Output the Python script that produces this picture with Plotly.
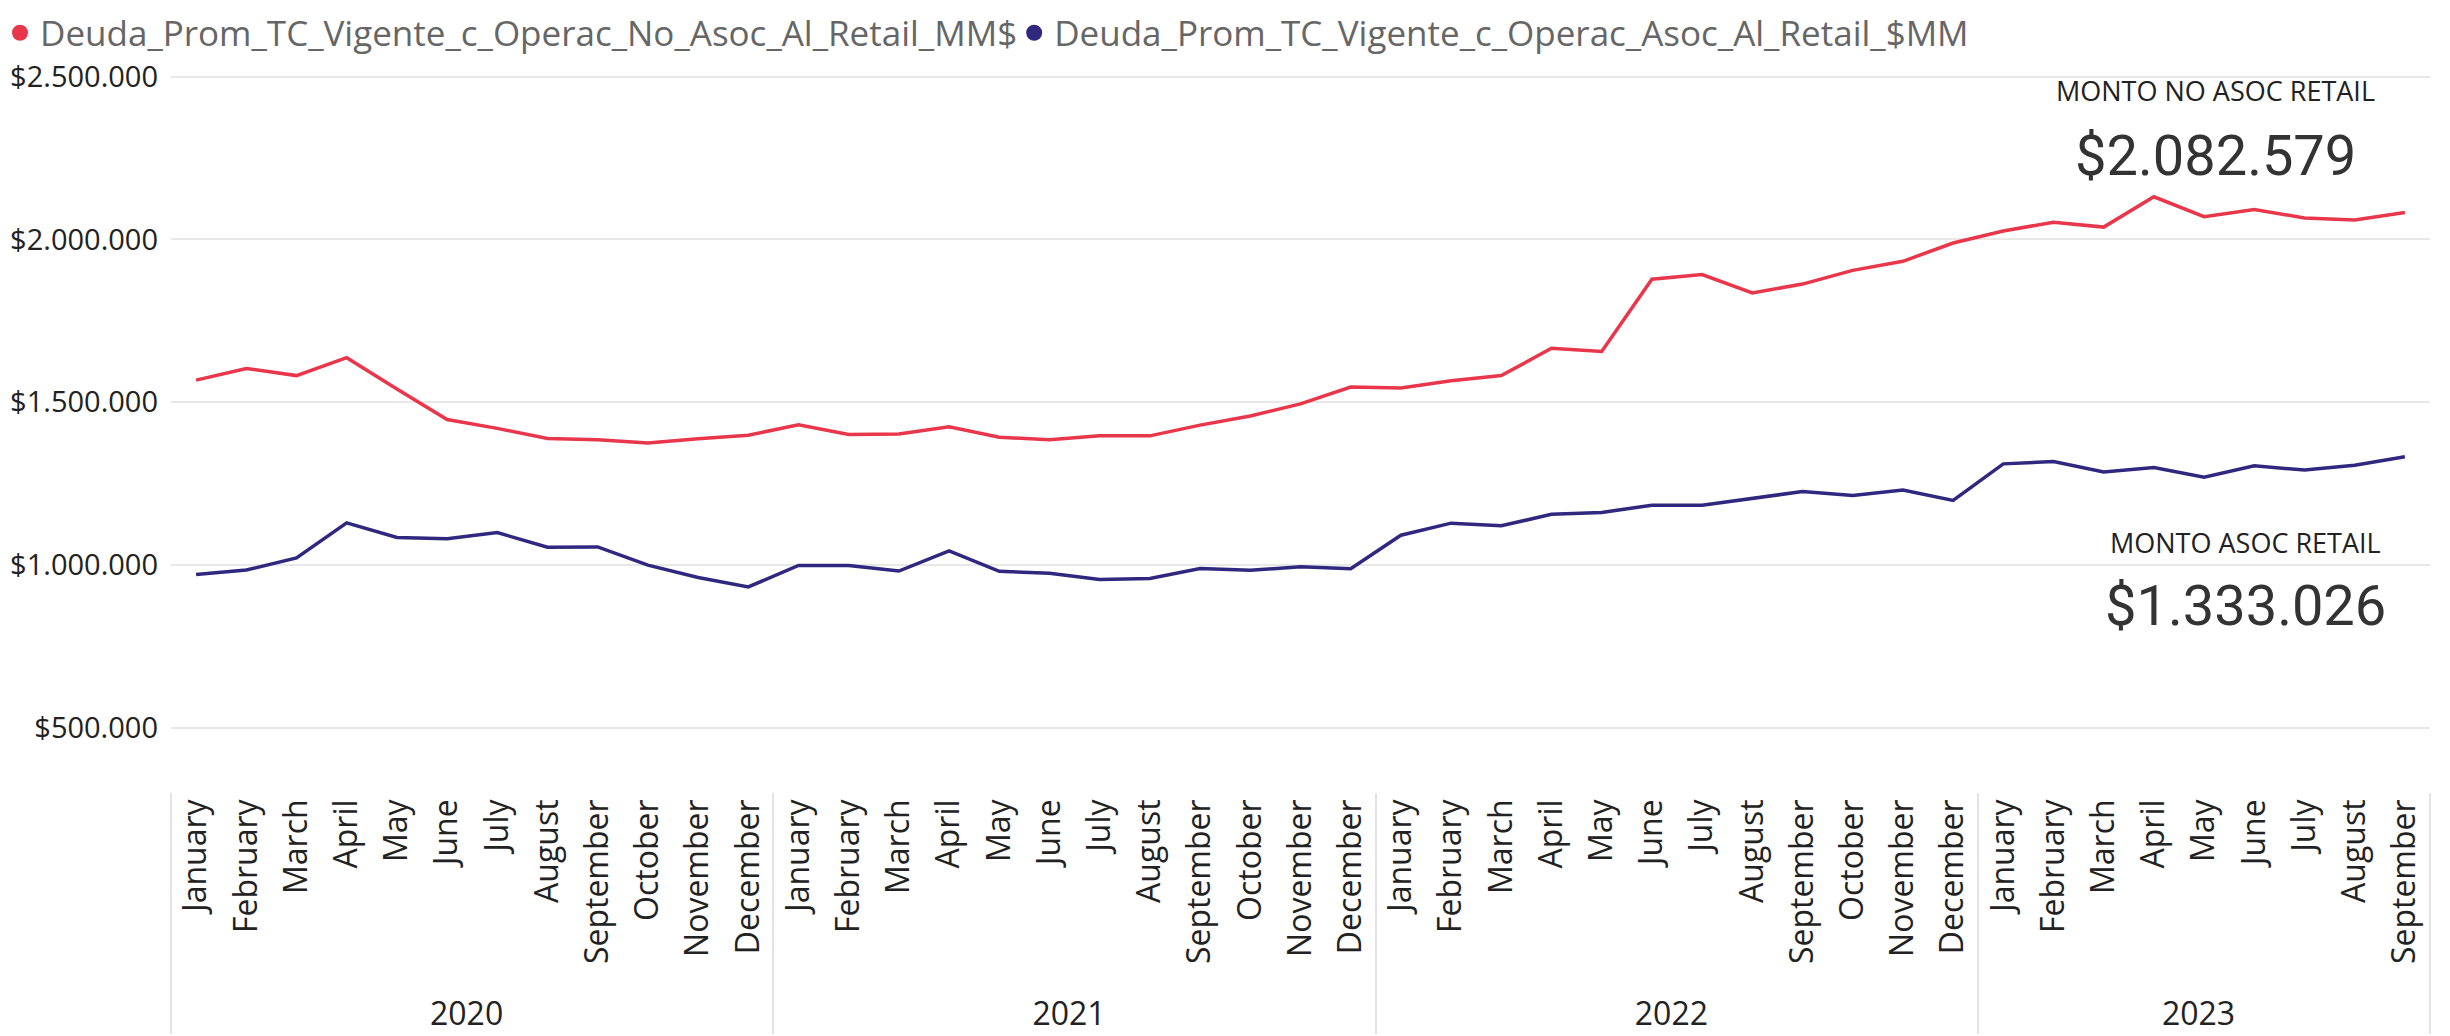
import plotly.graph_objects as go

years = ["2020"] * 12 + ["2021"] * 12 + ["2022"] * 12 + ["2023"] * 9
month_names = ["January", "February", "March", "April", "May", "June", "July",
               "August", "September", "October", "November", "December"]
months = month_names * 3 + month_names[:9]

no_asoc = [1568000, 1604000, 1582000, 1637000, 1541000, 1447000, 1420000, 1389000, 1385000, 1375000, 1388000, 1399000,
           1431000, 1401000, 1403000, 1425000, 1393000, 1385000, 1397000, 1397000, 1430000, 1458000, 1495000, 1547000,
           1544000, 1566000, 1582000, 1666000, 1656000, 1878000, 1892000, 1836000, 1863000, 1905000, 1933000, 1989000,
           2026000, 2053000, 2038000, 2131000, 2070000, 2092000, 2066000, 2060000, 2082579]
asoc = [971000, 985000, 1022000, 1130000, 1085000, 1081000, 1100000, 1055000, 1056000, 1000000, 962000, 933000,
        999000, 999000, 982000, 1044000, 981000, 975000, 956000, 959000, 990000, 984000, 995000, 989000,
        1092000, 1129000, 1121000, 1156000, 1162000, 1184000, 1184000, 1205000, 1226000, 1214000, 1231000, 1199000,
        1311000, 1318000, 1286000, 1300000, 1270000, 1305000, 1292000, 1307000, 1333026]

name_no_asoc = "Deuda_Prom_TC_Vigente_c_Operac_No_Asoc_Al_Retail_MM$"
name_asoc = "Deuda_Prom_TC_Vigente_c_Operac_Asoc_Al_Retail_$MM"
card_labels = ["MONTO NO ASOC RETAIL", "MONTO ASOC RETAIL"]

RED = "#E8374A"
BLUE = "#30287F"


def fmt(v):
    return "$" + f"{int(round(v)):,}".replace(",", ".")


W, H = 2450, 1036
ML, MR, MT, MB = 163, 28, 52, 252
PW, PH = W - ML - MR, H - MT - MB


def px(xp):
    return (xp - ML) / PW


def py(yp):
    return (H - MB - yp) / PH


fig = go.Figure()
fig.add_trace(go.Scatter(x=[years, months], y=no_asoc, mode="lines", line=dict(color=RED, width=3.5),
                         showlegend=False, name=name_no_asoc))
fig.add_trace(go.Scatter(x=[years, months], y=asoc, mode="lines", line=dict(color=BLUE, width=3.5),
                         showlegend=False, name=name_asoc))
# legend entries with circle symbols
fig.add_trace(go.Scatter(x=[[years[0]], [months[0]]], y=[None], mode="markers",
                         marker=dict(color=RED, size=16, symbol="circle"), name=name_no_asoc))
fig.add_trace(go.Scatter(x=[[years[0]], [months[0]]], y=[None], mode="markers",
                         marker=dict(color=BLUE, size=16, symbol="circle"), name=name_asoc))

annotations = [
    dict(text=card_labels[0], x=px(2207), y=py(82), font=dict(family="Open Sans", size=27, color="#222222")),
    dict(text=fmt(no_asoc[-1]), x=px(2207), y=py(148), font=dict(family="Roboto", size=56, color="#333333")),
    dict(text=card_labels[1], x=px(2237), y=py(534), font=dict(family="Open Sans", size=27, color="#222222")),
    dict(text=fmt(asoc[-1]), x=px(2237), y=py(598), font=dict(family="Roboto", size=56, color="#333333")),
]
for a in annotations:
    a.update(xref="paper", yref="paper", xanchor="center", yanchor="middle", showarrow=False)

fig.update_layout(
    width=W, height=H,
    margin=dict(l=ML, r=MR, t=MT, b=MB, pad=0, autoexpand=False),
    paper_bgcolor="white", plot_bgcolor="white",
    separators=",.",
    font=dict(family="Open Sans", color="#222222"),
    showlegend=True,
    legend=dict(orientation="h", xref="container", yref="container", x=0, y=1 - 25 / H,
                xanchor="left", yanchor="middle", font=dict(size=35, color="#666666"),
                itemwidth=30, indentation=-8, traceorder="normal", bgcolor="rgba(0,0,0,0)"),
    annotations=annotations,
    xaxis=dict(type="multicategory", range=[-0.5, 44.5], tickangle=-90, showgrid=False,
               showline=False, zeroline=False, ticks="", showdividers=True,
               dividercolor="#E3E3E3", dividerwidth=1.5,
               tickfont=dict(family="Open Sans", size=32, color="#222222")),
    yaxis=dict(range=[303500, 2551000], tick0=0, dtick=500000, tickprefix="$", tickformat=",d",
               showgrid=True, gridcolor="#E8E8E8", gridwidth=1.5, zeroline=False, showline=False,
               ticks="", ticklabelstandoff=12,
               tickfont=dict(family="Open Sans", size=29, color="#222222")),
)

fig.write_html("out.html")
